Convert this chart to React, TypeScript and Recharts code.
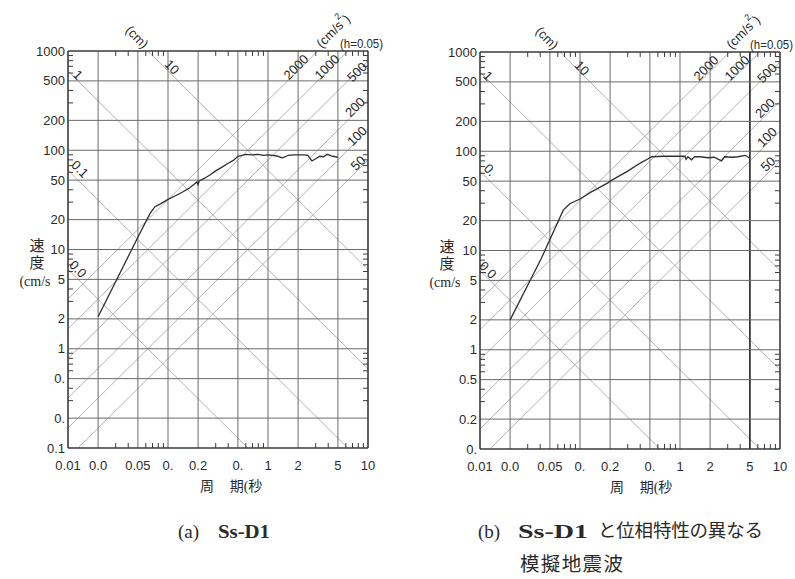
import React from 'react';
import { LineChart, Line, XAxis, YAxis, ReferenceLine } from 'recharts';

// ---- axis ticks & labels ----
const periodTicks = [0.01, 0.02, 0.05, 0.1, 0.2, 0.5, 1, 2, 5, 10];
const periodLabelsA = ['0.01', '0.0', '0.05', '0.', '0.2', '0.', '1', '2', '5', '10'];
const periodLabelsB = ['0.01', '0.0', '0.05', '0.', '0.2', '0.', '1', '2', '5', '10'];
const velocityTicks = [0.1, 0.2, 0.5, 1, 2, 5, 10, 20, 50, 100, 200, 500, 1000];
const velocityLabelsA = ['0.1', '0.', '0.', '1', '2', '5', '10', '20', '50', '100', '200', '500', '1000'];
const velocityLabelsB = ['0.', '0.2', '0.5', '1', '2', '5', '10', '20', '50', '100', '200', '500', '1000'];
const periodDecades = [0.01, 0.1, 1];
const velocityDecades = [0.1, 1, 10, 100];
const minorMults = [3, 4, 6, 7, 8, 9];

// ---- tripartite guide lines ----
const displacementLines = [0.01, 0.1, 1, 10]; // cm
const accelerationLines = [50, 100, 200, 500, 1000, 2000]; // cm/s^2
const dispLabelsA = ['0.0', '0.1', '1', '10'];
const dispLabelsB = ['0.0', '0.', '1', '10'];
const accLabels = ['50', '100', '200', '500', '1000', '2000'];

// ---- spectra ----
const periodA = [0.02, 0.05, 0.066, 0.074, 0.085, 0.1, 0.12, 0.14, 0.16, 0.18, 0.195, 0.2, 0.205, 0.23, 0.26, 0.3, 0.35, 0.4, 0.45, 0.5, 0.55, 0.6, 0.7, 0.8, 0.9, 1.0, 1.2, 1.4, 1.6, 1.8, 2.0, 2.3, 2.5, 2.75, 3.0, 3.3, 3.6, 3.9, 4.3, 4.7, 5.0];
const velocityA = [2.1, 13.3, 23, 27, 29, 32, 35, 38, 41, 45, 48, 45, 49, 52, 56, 62, 68, 74, 79, 87, 89, 91, 90, 91, 89, 90, 88, 84, 89, 90, 90, 90, 89, 78, 82, 87, 86, 91, 88, 86, 85];
const periodB = [0.02, 0.041, 0.068, 0.079, 0.1, 0.13, 0.19, 0.2, 0.3, 0.4, 0.48, 0.52, 0.7, 0.9, 1.12, 1.15, 1.2, 1.3, 1.4, 1.6, 1.9, 2.2, 2.6, 2.8, 3.3, 3.8, 4.5, 5.0];
const velocityB = [2.0, 8.3, 25.5, 29.6, 33, 39, 48, 50, 63, 76, 84, 88, 89, 89, 89, 83, 88, 82, 88, 88, 86, 87, 80, 88, 87, 88, 91, 85];

const T_MIN = 0.01, T_MAX = 10, V_MIN = 0.1, V_MAX = 1000;
const TWO_PI = 2 * Math.PI;
const tickLen = Math.pow(10, 0.05);

const GRID = '#6a6a6a';
const DIAG = '#b4b4b4';
const FRAME = '#3a3a3a';
const TXT = '#2a2a2a';
const SANS = '"Liberation Sans", Arial, sans-serif';
const SERIF = '"Liberation Serif", "Noto Sans CJK JP", serif';

function labelFor(ticks: number[], labels: string[]) {
  return (v: number) => {
    const i = ticks.findIndex((t) => Math.abs(Math.log10(t) - Math.log10(v)) < 1e-6);
    return i >= 0 ? labels[i] : '';
  };
}

function dispSegment(d: number) {
  const t0 = Math.max(T_MIN, (TWO_PI * d) / V_MAX);
  const t1 = Math.min(T_MAX, (TWO_PI * d) / V_MIN);
  return [
    { x: t0, y: (TWO_PI * d) / t0 },
    { x: t1, y: (TWO_PI * d) / t1 },
  ];
}
function accSegment(a: number) {
  const t0 = Math.max(T_MIN, (TWO_PI * V_MIN) / a);
  const t1 = Math.min(T_MAX, (TWO_PI * V_MAX) / a);
  return [
    { x: t0, y: (a * t0) / TWO_PI },
    { x: t1, y: (a * t1) / TWO_PI },
  ];
}

function Panel({ periods, velocities, xLabels, yLabels, darkFive }: any) {
  const data = periods.map((t: number, i: number) => ({ t, v: velocities[i] }));
  const minor: any[] = [];
  periodDecades.forEach((d) =>
    minorMults.forEach((m) => {
      const t = d * m;
      minor.push(<ReferenceLine key={`b${t}`} ifOverflow="visible" segment={[{ x: t, y: V_MIN }, { x: t, y: V_MIN * tickLen }]} stroke={FRAME} strokeWidth={1} />);
      minor.push(<ReferenceLine key={`t${t}`} ifOverflow="visible" segment={[{ x: t, y: V_MAX }, { x: t, y: V_MAX / tickLen }]} stroke={FRAME} strokeWidth={1} />);
    })
  );
  velocityDecades.forEach((d) =>
    minorMults.forEach((m) => {
      const v = d * m;
      minor.push(<ReferenceLine key={`l${v}`} ifOverflow="visible" segment={[{ x: T_MIN, y: v }, { x: T_MIN * tickLen, y: v }]} stroke={FRAME} strokeWidth={1} />);
      minor.push(<ReferenceLine key={`r${v}`} ifOverflow="visible" segment={[{ x: T_MAX, y: v }, { x: T_MAX / tickLen, y: v }]} stroke={FRAME} strokeWidth={1} />);
    })
  );
  return (
    <LineChart width={400} height={500} data={data} margin={{ top: 51, right: 32, bottom: 22, left: 8 }}>
      <XAxis
        dataKey="t"
        type="number"
        scale="log"
        domain={[T_MIN, T_MAX]}
        ticks={periodTicks}
        tickFormatter={labelFor(periodTicks, xLabels)}
        allowDataOverflow
        height={30}
        tickSize={0}
        tickMargin={13}
        axisLine={{ stroke: FRAME, strokeWidth: 1.6 }}
        tick={{ fill: TXT, fontSize: 13, fontFamily: SANS }}
        interval={0}
      />
      <YAxis
        type="number"
        scale="log"
        domain={[V_MIN, V_MAX]}
        ticks={velocityTicks}
        tickFormatter={labelFor(velocityTicks, yLabels)}
        allowDataOverflow
        width={60}
        tickSize={0}
        tickMargin={3}
        axisLine={{ stroke: FRAME, strokeWidth: 1.6 }}
        tick={{ fill: TXT, fontSize: 13, fontFamily: SANS }}
        interval={0}
      />
      {displacementLines.map((d) => (
        <ReferenceLine key={`d${d}`} ifOverflow="visible" segment={dispSegment(d)} stroke={DIAG} strokeWidth={1} />
      ))}
      {accelerationLines.map((a) => (
        <ReferenceLine key={`a${a}`} ifOverflow="visible" segment={accSegment(a)} stroke={DIAG} strokeWidth={1} />
      ))}
      {periodTicks.slice(1, -1).map((t) => (
        <ReferenceLine key={`vx${t}`} x={t} stroke={darkFive && t === 5 ? '#222' : GRID} strokeWidth={darkFive && t === 5 ? 1.6 : 1} />
      ))}
      {velocityTicks.slice(1, -1).map((v) => (
        <ReferenceLine key={`hy${v}`} y={v} stroke={GRID} strokeWidth={1} />
      ))}
      {minor}
      <ReferenceLine y={V_MAX} stroke={FRAME} strokeWidth={1.6} />
      <ReferenceLine x={T_MAX} stroke={FRAME} strokeWidth={1.6} />
      <Line dataKey="v" stroke="#303030" strokeWidth={1.3} dot={false} isAnimationActive={false} />
    </LineChart>
  );
}

function DiagText({ x, y, rot, children, size = 13 }: any) {
  return (
    <text x={x} y={y} transform={`rotate(${rot} ${x} ${y})`} textAnchor="middle" dominantBaseline="central" fontSize={size} fontFamily={SANS} fill={TXT}>
      {children}
    </text>
  );
}

function PanelLabels({ dx, dy, dispLabels }: any) {
  const dPos = [
    [78, 269],
    [80, 169],
    [78, 75],
    [172, 67],
  ];
  const aPos = [
    [358, 163],
    [357, 136],
    [355, 107],
    [357, 72],
    [327, 67],
    [296, 67],
  ];
  return (
    <g transform={`translate(${dx} ${dy})`}>
      <DiagText x={137} y={37} rot={45}>(cm)</DiagText>
      <g transform="rotate(-45 333 31)">
        <text x={333} y={31} textAnchor="middle" dominantBaseline="central" fontSize={13} fontFamily={SANS} fill={TXT}>
          (cm/s<tspan dy={-7} fontSize={9}>2</tspan><tspan dy={7}>)</tspan>
        </text>
      </g>
      <text x={340} y={48} fontSize={12} fontFamily={SANS} fill={TXT} textLength={43} lengthAdjust="spacingAndGlyphs">(h=0.05)</text>
      {dispLabels.map((s: string, i: number) => (
        <DiagText key={`dl${i}`} x={dPos[i][0]} y={dPos[i][1]} rot={45}>{s}</DiagText>
      ))}
      {accLabels.map((s: string, i: number) => (
        <DiagText key={`al${i}`} x={aPos[i][0]} y={aPos[i][1]} rot={-45}>{s}</DiagText>
      ))}
      <text x={37} y={246} textAnchor="middle" dominantBaseline="central" fontSize={15} fontFamily={SERIF} fill={TXT}>速</text>
      <text x={37} y={263} textAnchor="middle" dominantBaseline="central" fontSize={15} fontFamily={SERIF} fill={TXT}>度</text>
      <text x={35} y={281} textAnchor="middle" dominantBaseline="central" fontSize={14} fontFamily={SERIF} fill={TXT}>(cm/s</text>
      <text x={207} y={486} textAnchor="middle" dominantBaseline="central" fontSize={14} fontFamily={SERIF} fill={TXT}>周</text>
      <text x={246} y={486} textAnchor="middle" dominantBaseline="central" fontSize={14} fontFamily={SERIF} fill={TXT}>期(秒</text>
    </g>
  );
}

export default function App() {
  return (
    <div style={{ position: 'absolute', left: 0, top: 0, width: 795, height: 579, background: '#fff', overflow: 'hidden' }}>
      <div style={{ position: 'absolute', left: 0, top: 0 }}>
        <Panel periods={periodA} velocities={velocityA} xLabels={periodLabelsA} yLabels={velocityLabelsA} darkFive={false} />
      </div>
      <div style={{ position: 'absolute', left: 412, top: 1 }}>
        <Panel periods={periodB} velocities={velocityB} xLabels={periodLabelsB} yLabels={velocityLabelsB} darkFive={true} />
      </div>
      <svg width={795} height={579} style={{ position: 'absolute', left: 0, top: 0, pointerEvents: 'none' }}>
        <PanelLabels dx={0} dy={0} dispLabels={dispLabelsA} />
        <PanelLabels dx={410} dy={1} dispLabels={dispLabelsB} />
        <text x={178} y={531} dominantBaseline="central" fontSize={19} fontFamily={SERIF} fill={TXT}>(a)</text>
        <text x={218} y={531} dominantBaseline="central" fontSize={19} fontFamily={SERIF} fontWeight="bold" fill={TXT} textLength={52} lengthAdjust="spacingAndGlyphs">Ss-D1</text>
        <text x={478} y={531} dominantBaseline="central" fontSize={19} fontFamily={SERIF} fill={TXT}>(b)</text>
        <text x={518} y={531} dominantBaseline="central" fontSize={19} fontFamily={SERIF} fontWeight="bold" fill={TXT} textLength={70} lengthAdjust="spacingAndGlyphs">Ss-D1</text>
        <text x={598} y={531} dominantBaseline="central" fontSize={18.5} fontFamily={SERIF} fill={TXT} textLength={165} lengthAdjust="spacing">と位相特性の異なる</text>
        <text x={520} y={564} dominantBaseline="central" fontSize={19.5} fontFamily={SERIF} fill={TXT} textLength={103} lengthAdjust="spacing">模擬地震波</text>
      </svg>
    </div>
  );
}
